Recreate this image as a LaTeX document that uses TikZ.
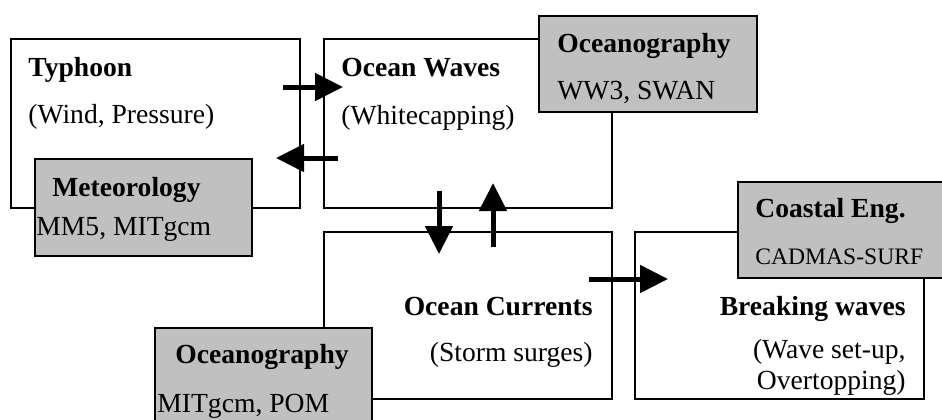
\documentclass[tikz,border=0pt]{standalone}
\usepackage{fontspec}
\setmainfont{Liberation Serif}
\usetikzlibrary{arrows.meta}

\begin{document}
\begin{tikzpicture}[x=0.5pt, y=-0.5pt,
  whitebox/.style={draw, line width=1pt, fill=white, inner sep=0pt, anchor=north west},
  graybox/.style={draw, line width=1pt, fill=boxgray, inner sep=0pt, anchor=north west},
  flow/.style={line width=2.5pt, -{Triangle[length=14pt, width=13.5pt]}},
  head/.style={inner sep=0pt, font=\fontsize{13.8}{16}\selectfont\bfseries},
  note/.style={inner sep=0pt, font=\fontsize{13.8}{16}\selectfont}]
\definecolor{boxgray}{RGB}{192,192,192}
\clip (0, 0) rectangle (942, 419);

\node (typhoon) [whitebox, minimum width=144.5pt, minimum height=84.5pt] at (10, 38) {};
\node (waves) [whitebox, minimum width=144pt, minimum height=84.5pt] at (323, 38) {};
\node (currents) [whitebox, minimum width=144pt, minimum height=83.5pt] at (323, 231) {};
\node (breaking) [whitebox, minimum width=144.5pt, minimum height=83.5pt] at (634, 231) {};

\node (meteo) [graybox, minimum width=108.5pt, minimum height=48.5pt] at (34, 158) {};
\node (oceantop) [graybox, minimum width=109pt, minimum height=48pt] at (538, 15) {};
\node (oceanbot) [graybox, minimum width=108.5pt, minimum height=52pt] at (154, 327) {};
\node (coastal) [graybox, minimum width=108pt, minimum height=48pt] at (737, 181) {};

\node (t1) [head, anchor=base west] at (28, 76) {Typhoon};
\node (t2) [note, anchor=base west] at (28, 123) {(Wind, Pressure)};
\node (m1) [head, anchor=base west] at (52, 196) {Meteorology};
\node (m2) [note, anchor=base west] at (36, 235) {MM5, MITgcm};

\node (w1) [head, anchor=base west] at (341, 76) {Ocean Waves};
\node (w2) [note, anchor=base west] at (341, 124) {(Whitecapping)};
\node (o1) [head, anchor=base west] at (557, 52) {Oceanography};
\node (o2) [note, anchor=base west] at (557, 99) {WW3, SWAN};

\node (c1) [head, anchor=base east] at (593, 315) {Ocean Currents};
\node (c2) [note, anchor=base east] at (593, 361) {(Storm surges)};
\node (p1) [head, anchor=base west] at (175, 363) {Oceanography};
\node (p2) [note, anchor=base west] at (157, 412) {MITgcm, POM};

\node (b1) [head, anchor=base east] at (906, 315) {Breaking waves};
\node (b2) [note, anchor=base east] at (906, 358) {(Wave set-up,};
\node (b3) [note, anchor=base east] at (906, 389) {Overtopping)};
\node (e1) [head, anchor=base west] at (755, 217) {Coastal Eng.};
\node (e2) [note, anchor=base west, font=\fontsize{11.8}{14}\selectfont] at (755, 264) {CADMAS-SURF};

\coordinate (windA) at (283, 87);
\coordinate (windB) at (343, 87);
\coordinate (backA) at (338, 158);
\coordinate (backB) at (276, 158);
\coordinate (downA) at (439, 191);
\coordinate (downB) at (439, 254);
\coordinate (upA) at (493, 247);
\coordinate (upB) at (493, 183);
\coordinate (surgeA) at (589, 279);
\coordinate (surgeB) at (668, 279);

\draw [flow] (windA) -- (windB);
\draw [flow] (backA) -- (backB);
\draw [flow] (downA) -- (downB);
\draw [flow] (upA) -- (upB);
\draw [flow] (surgeA) -- (surgeB);
\end{tikzpicture}
\end{document}
